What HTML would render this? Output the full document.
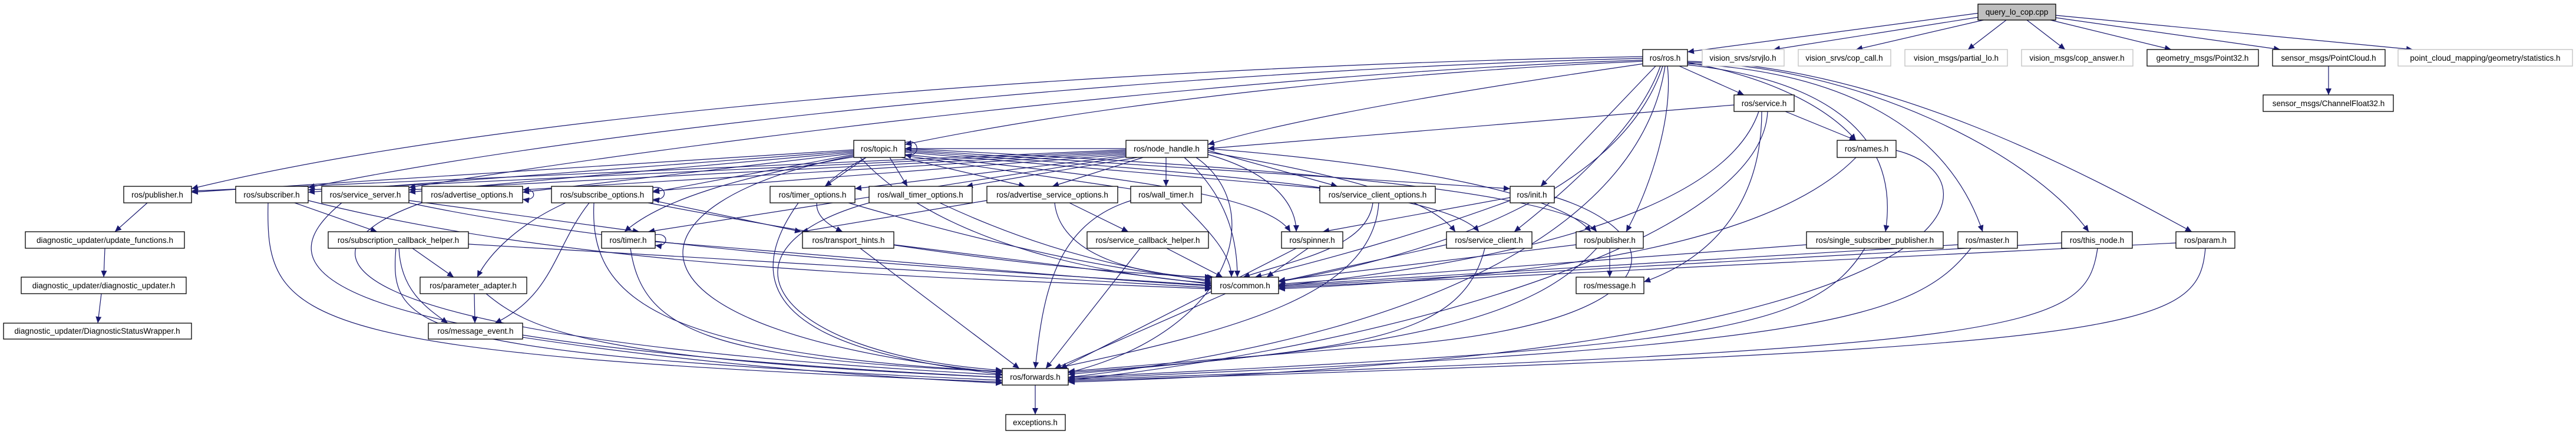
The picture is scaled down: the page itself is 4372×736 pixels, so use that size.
<!DOCTYPE html>
<html><head><meta charset="utf-8"><style>
html,body{margin:0;padding:0;background:#fff}
svg{display:block}
text{font-family:"Liberation Sans",sans-serif;font-size:13.5px;fill:#000}
.e{fill:none;stroke:#191970;stroke-width:1.2;marker-end:url(#a)}
.n{fill:#fff;stroke:#000;stroke-width:1.3}
.g{fill:#fff;stroke:#bfbfbf;stroke-width:1.3}
</style></head><body>
<svg width="4372" height="736" viewBox="0 0 4372 736" xmlns="http://www.w3.org/2000/svg">
<defs><marker id="a" markerUnits="userSpaceOnUse" markerWidth="12" markerHeight="10" refX="11" refY="5" orient="auto"><path d="M0 0L11 5L0 10z" fill="#191970"/></marker></defs>
<g>
<path class="e" d="M3360 22L2864 88"/><path class="e" d="M3365 28L3010 84"/><path class="e" d="M3375 32L3150 84"/>
<path class="e" d="M3405 34L3340 84"/><path class="e" d="M3440 34L3505 84"/><path class="e" d="M3480 34L3685 84"/>
<path class="e" d="M3489 30L3870 84"/><path class="e" d="M3489 26L4095 84"/><path class="e" d="M3952 112L3952 161"/>
<path class="e" d="M2788 96C2000 110 900 180 325 320"/><path class="e" d="M2788 99C2100 115 1100 200 523 318"/><path class="e" d="M2788 102C2200 120 1300 220 694 318"/>
<path class="e" d="M2788 104C2400 120 1900 170 1536 245"/><path class="e" d="M2790 108C2500 150 2200 200 2050 245"/><path class="e" d="M2850 112L2960 161"/>
<path class="e" d="M2864 106C3000 130 3100 180 3150 238"/><path class="e" d="M2810 112L2615 316"/><path class="e" d="M2818 112C2780 220 2650 330 2570 393"/>
<path class="e" d="M2830 112C2840 200 2800 320 2760 393"/><path class="e" d="M2864 110C3050 130 3230 200 3200 393"/>
<path class="e" d="M2864 108C3100 120 3300 200 3365 393"/><path class="e" d="M2864 106C3150 110 3450 260 3545 393"/><path class="e" d="M2864 104C3200 110 3550 300 3720 393"/>
<path class="e" d="M2822 112C2760 300 2500 420 2170 478"/><path class="e" d="M2826 112C2790 350 2500 560 1813 640"/>
<path class="e" d="M2943 178L2050 252"/><path class="e" d="M3030 189L3150 238"/><path class="e" d="M2985 189C2930 350 2600 440 2170 485"/>
<path class="e" d="M3000 189C2990 400 2400 580 1813 645"/><path class="e" d="M2990 189C2990 350 2900 440 2790 478"/>
<path class="e" d="M3150 267C3000 420 2600 470 2170 490"/><path class="e" d="M3218 255C3400 300 3400 600 1813 648"/>
<path class="e" d="M1911 252L1536 252"/><path class="e" d="M1911 254L325 324"/><path class="e" d="M1911 256L523 322"/>
<path class="e" d="M1911 258L694 322"/><path class="e" d="M1911 260L887 322"/><path class="e" d="M1911 262L1108 324"/>
<path class="e" d="M1911 264L1451 320"/><path class="e" d="M1930 267L1640 316"/><path class="e" d="M1940 267L1786 316"/>
<path class="e" d="M1979 267L1979 316"/><path class="e" d="M2050 255L2270 316"/><path class="e" d="M1911 266L1100 393"/>
<path class="e" d="M2050 262C2150 290 2200 340 2200 393"/><path class="e" d="M2050 258C2300 300 2430 340 2470 393"/>
<path class="e" d="M2050 252C2400 280 2650 330 2700 393"/><path class="e" d="M2010 267C2080 330 2100 400 2100 470"/>
<path class="e" d="M2030 267C2150 350 2100 560 1813 632"/>
<path class="e" d="M1536 242C1562 232 1564 270 1536 262"/>
<path class="e" d="M1449 254L325 326"/><path class="e" d="M1449 256L523 326"/><path class="e" d="M1449 258L694 326"/>
<path class="e" d="M1449 260L887 326"/><path class="e" d="M1449 262L1108 326"/><path class="e" d="M1470 267L1400 316"/>
<path class="e" d="M1510 267L1540 316"/><path class="e" d="M1530 267L1740 316"/><path class="e" d="M1536 264L1930 322"/>
<path class="e" d="M1536 258L2250 320"/><path class="e" d="M1536 254L2563 320"/><path class="e" d="M1449 266C1250 300 1120 340 1060 393"/>
<path class="e" d="M1470 267C1350 330 1380 370 1430 393"/><path class="e" d="M1536 262C1900 300 2150 330 2190 393"/>
<path class="e" d="M1536 256C2000 290 2450 320 2510 393"/><path class="e" d="M1536 252C2100 280 2650 320 2710 393"/>
<path class="e" d="M1460 267C1600 420 1900 470 2056 480"/><path class="e" d="M1449 264C1050 340 1000 560 1701 632"/>
<path class="e" d="M250 344L195 393"/><path class="e" d="M178 421L176 470"/><path class="e" d="M172 498L166 548"/>
<path class="e" d="M500 344L640 393"/><path class="e" d="M523 340C1000 460 1600 470 2056 490"/><path class="e" d="M455 344C450 550 500 600 1701 648"/>
<path class="e" d="M580 344C450 450 480 580 1701 640"/><path class="e" d="M694 340L1085 393"/><path class="e" d="M694 344C1100 430 1700 460 2056 484"/>
<path class="e" d="M887 322C912 318 912 342 887 338"/><path class="e" d="M716 344C500 420 480 570 1701 636"/>
<path class="e" d="M1108 318C1134 314 1134 342 1108 338"/><path class="e" d="M960 344C880 380 830 430 810 470"/>
<path class="e" d="M1000 344C940 420 940 500 840 548"/><path class="e" d="M1008 344C1000 500 1100 600 1701 630"/>
<path class="e" d="M1108 340L1360 393"/><path class="e" d="M1100 344C1500 420 1800 460 2056 470"/>
<path class="e" d="M1112 398C1136 394 1136 420 1112 416"/><path class="e" d="M1112 410C1500 440 1800 470 2056 485"/>
<path class="e" d="M1070 421C1090 560 1200 610 1701 630"/>
<path class="e" d="M700 421L770 470"/><path class="e" d="M677 421C680 490 720 520 760 548"/><path class="e" d="M672 421C660 560 700 600 1701 645"/>
<path class="e" d="M795 414C1300 440 1800 470 2056 488"/><path class="e" d="M805 498L806 548"/><path class="e" d="M825 498C900 560 1000 610 1701 640"/>
<path class="e" d="M887 572C1200 620 1500 640 1701 650"/>
<path class="e" d="M1440 344C1700 420 1900 460 2056 475"/><path class="e" d="M1355 344C1200 560 1500 610 1701 635"/>
<path class="e" d="M1595 344C1800 440 1950 460 2056 478"/><path class="e" d="M1475 344C1200 420 1300 600 1701 628"/>
<path class="e" d="M1815 344L1915 393"/><path class="e" d="M1790 344C1800 440 1950 470 2060 470"/><path class="e" d="M1675 340L1360 393"/>
<path class="e" d="M1979 320C2004 316 2004 342 1979 338"/><path class="e" d="M2005 344C2050 390 2090 430 2090 470"/>
<path class="e" d="M1920 340C1790 380 1770 500 1757 625"/><path class="e" d="M1460 421L1730 625"/><path class="e" d="M1517 415L2056 482"/>
<path class="e" d="M1980 421L2075 470"/><path class="e" d="M1935 421L1775 625"/><path class="e" d="M2330 344C2320 420 2200 440 2110 470"/>
<path class="e" d="M2340 344C2330 500 2100 560 1790 625"/><path class="e" d="M2563 335L2245 393"/><path class="e" d="M2563 340C2400 400 2250 440 2130 470"/>
<path class="e" d="M2638 334C2850 400 2850 560 2300 590L1813 630"/><path class="e" d="M2220 421L2150 470"/><path class="e" d="M2200 421L1800 625"/>
<path class="e" d="M2455 415L2170 478"/><path class="e" d="M2520 421C2480 580 2300 590 1813 635"/><path class="e" d="M2732 421L2732 470"/>
<path class="e" d="M2675 415L2170 476"/><path class="e" d="M2710 421C2600 540 2400 590 1813 632"/><path class="e" d="M2080 498L1790 625"/>
<path class="e" d="M3066 415L2170 482"/><path class="e" d="M3165 421C3080 560 2900 590 1813 640"/>
<path class="e" d="M3323 415L2170 484"/><path class="e" d="M3345 421C3250 540 3100 590 1813 642"/>
<path class="e" d="M3499 412L2170 486"/><path class="e" d="M3560 421C3540 560 3450 590 1813 644"/>
<path class="e" d="M3693 412L2170 488"/><path class="e" d="M3743 421C3730 560 3650 590 1813 646"/>
<path class="e" d="M1757 653L1757 703"/>
</g>
<g>
<rect x="3357" y="7" width="132" height="27" fill="#bfbfbf" stroke="#000" stroke-width="1.3"/><text x="3423" y="25" text-anchor="middle">query_lo_cop.cpp</text>
<rect class="n" x="2788" y="84" width="76" height="28"/><text x="2826" y="103" text-anchor="middle">ros/ros.h</text>
<rect class="g" x="2889" y="84" width="139" height="28"/><text x="2958" y="103" text-anchor="middle">vision_srvs/srvjlo.h</text>
<rect class="g" x="3052" y="84" width="157" height="28"/><text x="3130" y="103" text-anchor="middle">vision_srvs/cop_call.h</text>
<rect class="g" x="3233" y="84" width="174" height="28"/><text x="3320" y="103" text-anchor="middle">vision_msgs/partial_lo.h</text>
<rect class="g" x="3431" y="84" width="189" height="28"/><text x="3525" y="103" text-anchor="middle">vision_msgs/cop_answer.h</text>
<rect class="n" x="3644" y="84" width="189" height="28"/><text x="3738" y="103" text-anchor="middle">geometry_msgs/Point32.h</text>
<rect class="n" x="3857" y="84" width="191" height="28"/><text x="3952" y="103" text-anchor="middle">sensor_msgs/PointCloud.h</text>
<rect class="g" x="4070" y="84" width="296" height="28"/><text x="4218" y="103" text-anchor="middle">point_cloud_mapping/geometry/statistics.h</text>
<rect class="n" x="2943" y="161" width="102" height="28"/><text x="2994" y="180" text-anchor="middle">ros/service.h</text>
<rect class="n" x="3841" y="161" width="221" height="28"/><text x="3952" y="180" text-anchor="middle">sensor_msgs/ChannelFloat32.h</text>
<rect class="n" x="1449" y="238" width="87" height="29"/><text x="1492" y="257" text-anchor="middle">ros/topic.h</text>
<rect class="n" x="1911" y="238" width="139" height="29"/><text x="1980" y="257" text-anchor="middle">ros/node_handle.h</text>
<rect class="n" x="3118" y="238" width="100" height="29"/><text x="3168" y="257" text-anchor="middle">ros/names.h</text>
<rect class="n" x="210" y="316" width="115" height="28"/><text x="267" y="335" text-anchor="middle">ros/publisher.h</text>
<rect class="n" x="400" y="316" width="123" height="28"/><text x="461" y="335" text-anchor="middle">ros/subscriber.h</text>
<rect class="n" x="546" y="316" width="148" height="28"/><text x="620" y="335" text-anchor="middle">ros/service_server.h</text>
<rect class="n" x="716" y="316" width="171" height="28"/><text x="801" y="335" text-anchor="middle">ros/advertise_options.h</text>
<rect class="n" x="936" y="316" width="172" height="28"/><text x="1022" y="335" text-anchor="middle">ros/subscribe_options.h</text>
<rect class="n" x="1307" y="316" width="144" height="28"/><text x="1379" y="335" text-anchor="middle">ros/timer_options.h</text>
<rect class="n" x="1475" y="316" width="175" height="28"/><text x="1562" y="335" text-anchor="middle">ros/wall_timer_options.h</text>
<rect class="n" x="1675" y="316" width="222" height="28"/><text x="1786" y="335" text-anchor="middle">ros/advertise_service_options.h</text>
<rect class="n" x="1919" y="316" width="120" height="28"/><text x="1979" y="335" text-anchor="middle">ros/wall_timer.h</text>
<rect class="n" x="2240" y="316" width="196" height="28"/><text x="2338" y="335" text-anchor="middle">ros/service_client_options.h</text>
<rect class="n" x="2563" y="316" width="75" height="28"/><text x="2600" y="335" text-anchor="middle">ros/init.h</text>
<rect class="n" x="43" y="393" width="270" height="28"/><text x="178" y="412" text-anchor="middle">diagnostic_updater/update_functions.h</text>
<rect class="n" x="557" y="393" width="238" height="28"/><text x="676" y="412" text-anchor="middle">ros/subscription_callback_helper.h</text>
<rect class="n" x="1021" y="393" width="91" height="28"/><text x="1066" y="412" text-anchor="middle">ros/timer.h</text>
<rect class="n" x="1362" y="393" width="155" height="28"/><text x="1440" y="412" text-anchor="middle">ros/transport_hints.h</text>
<rect class="n" x="1845" y="393" width="206" height="28"/><text x="1948" y="412" text-anchor="middle">ros/service_callback_helper.h</text>
<rect class="n" x="2175" y="393" width="104" height="28"/><text x="2227" y="412" text-anchor="middle">ros/spinner.h</text>
<rect class="n" x="2455" y="393" width="145" height="28"/><text x="2527" y="412" text-anchor="middle">ros/service_client.h</text>
<rect class="n" x="2675" y="393" width="114" height="28"/><text x="2732" y="412" text-anchor="middle">ros/publisher.h</text>
<rect class="n" x="3066" y="393" width="232" height="28"/><text x="3182" y="412" text-anchor="middle">ros/single_subscriber_publisher.h</text>
<rect class="n" x="3323" y="393" width="101" height="28"/><text x="3373" y="412" text-anchor="middle">ros/master.h</text>
<rect class="n" x="3499" y="393" width="120" height="28"/><text x="3559" y="412" text-anchor="middle">ros/this_node.h</text>
<rect class="n" x="3693" y="393" width="100" height="28"/><text x="3743" y="412" text-anchor="middle">ros/param.h</text>
<rect class="n" x="36" y="470" width="280" height="28"/><text x="176" y="489" text-anchor="middle">diagnostic_updater/diagnostic_updater.h</text>
<rect class="n" x="713" y="470" width="181" height="28"/><text x="803" y="489" text-anchor="middle">ros/parameter_adapter.h</text>
<rect class="n" x="2056" y="470" width="114" height="28"/><text x="2113" y="489" text-anchor="middle">ros/common.h</text>
<rect class="n" x="2675" y="470" width="115" height="28"/><text x="2732" y="489" text-anchor="middle">ros/message.h</text>
<rect class="n" x="6" y="548" width="319" height="27"/><text x="165" y="566" text-anchor="middle">diagnostic_updater/DiagnosticStatusWrapper.h</text>
<rect class="n" x="727" y="548" width="160" height="27"/><text x="807" y="566" text-anchor="middle">ros/message_event.h</text>
<rect class="n" x="1701" y="625" width="112" height="28"/><text x="1757" y="644" text-anchor="middle">ros/forwards.h</text>
<rect class="n" x="1707" y="703" width="101" height="27"/><text x="1757" y="721" text-anchor="middle">exceptions.h</text>
</g>
</svg>
</body></html>
